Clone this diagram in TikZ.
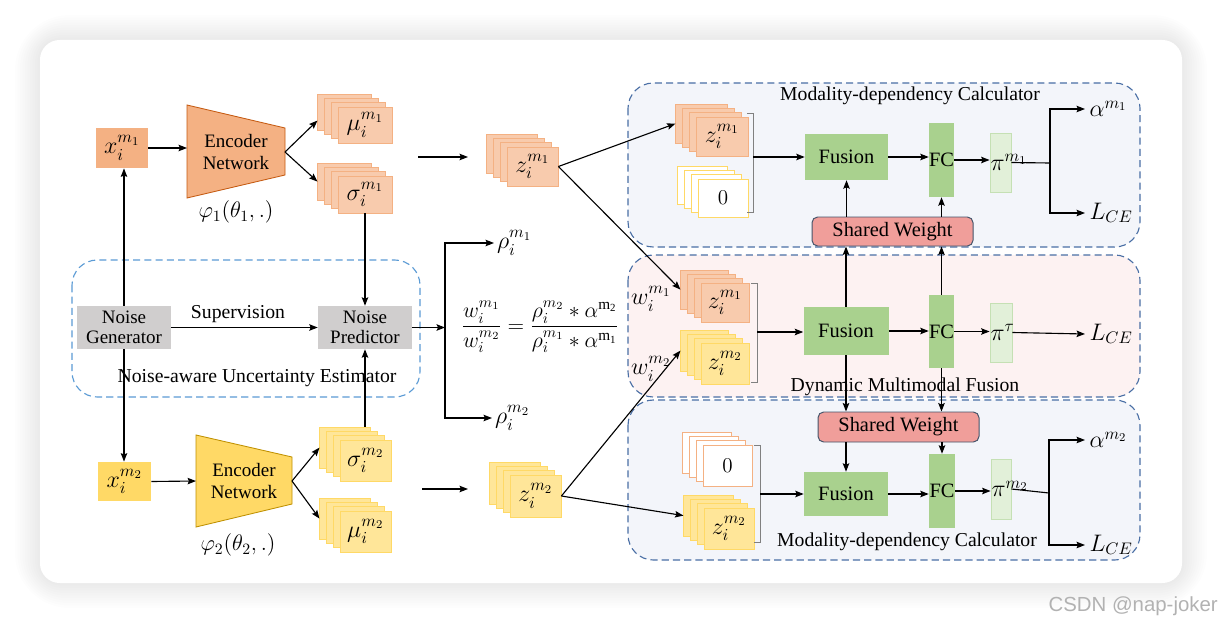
\RequirePackage{fix-cm}
\documentclass[tikz,border=0pt]{standalone}
\usepackage{amsmath}
\usepackage{fontspec}
\setmainfont{Liberation Serif}
\newfontfamily\wmfont{Liberation Sans}
\usetikzlibrary{arrows.meta,calc}
\definecolor{oD}{HTML}{F4B183}
\definecolor{oL}{HTML}{F8CBAD}
\definecolor{oB}{HTML}{C55A11}
\definecolor{yD}{HTML}{FFD966}
\definecolor{yL}{HTML}{FFE699}
\definecolor{yB}{HTML}{BF9000}
\definecolor{gN}{HTML}{D0CECE}
\definecolor{gr}{HTML}{A9D18E}
\definecolor{grL}{HTML}{E2F0D9}
\definecolor{grB}{HTML}{C5E0B4}
\definecolor{swF}{HTML}{F09E9A}
\definecolor{swB}{HTML}{44546A}
\definecolor{pB}{HTML}{F3F5FA}
\definecolor{pP}{HTML}{FDF2F2}
\definecolor{pD}{HTML}{4A6FA5}
\definecolor{lD}{HTML}{5B9BD5}
\newcommand\stk[7]{%
  \foreach \k in {3,2,1}{\node[#6, minimum width=#4*0.025cm, minimum height=#5*0.025cm] (#1-\k) at (#2-\k*6.7, #3-\k*4.3) {};}
  \node[#6, minimum width=#4*0.025cm, minimum height=#5*0.025cm] (#1) at (#2,#3) {#7};}
\begin{document}
\begin{tikzpicture}[x=0.025cm,y=-0.025cm,
  font=\fontsize{13}{15}\selectfont,
  arr/.style={line width=0.8pt,-{Stealth[length=6pt,width=4.6pt,inset=1pt]}},
  ln/.style={line width=0.8pt},
  mth/.style={font=\fontsize{17}{19}\selectfont},
  box/.style={line width=0.6pt,inner sep=0pt,mth},
  stO/.style={box,fill=oL,draw=oD},
  stY/.style={box,fill=yL,draw=yD},
  zY/.style={box,fill=white,draw=yD,font=\fontsize{15}{17}\selectfont},
  zO/.style={box,fill=white,draw=oD,font=\fontsize{15}{17}\selectfont},
  gnode/.style={fill=gN,inner sep=0pt,align=center,font=\fontsize{13.5}{14.5}\selectfont},
  grn/.style={fill=gr,inner sep=0pt,font=\fontsize{14.5}{16}\selectfont},
  pib/.style={fill=grL,draw=grB,line width=0.6pt,inner sep=0pt},
  swn/.style={fill=swF,draw=swB,line width=0.7pt,rounded corners=4pt,inner sep=0pt,font=\fontsize{14.5}{16}\selectfont},
  panel/.style={draw=pD,dashed,dash pattern=on 5pt off 3pt,line width=0.8pt,rounded corners=18pt},
  brk/.style={draw=gray,line width=0.6pt},
  ttl/.style={font=\fontsize{14}{16}\selectfont}]
\useasboundingbox (0,0) rectangle (1222,624);
\fill[white] (0,0) rectangle (1222,624);
% card with shadow
\foreach \k in {1,...,10}{\fill[black,opacity=0.007,rounded corners=14+\k*2.5] (40-\k*2.5,40-\k*2.5) rectangle (1182+\k*2.5,583+\k*2.5);}
\fill[white,rounded corners=14] (40,40) rectangle (1182,583);
\node[anchor=east,text=black!30,font=\wmfont\fontsize{14.5}{17}\selectfont,inner sep=0pt] (wm) at (1218,606) {CSDN @nap-joker};
% panels
\filldraw[panel,fill=pB] (628,83) rectangle (1140,247);
\filldraw[panel,fill=pP] (628,255) rectangle (1140,397);
\filldraw[panel,fill=pB] (628,400) rectangle (1140,560);
\node[ttl] (t1) at (910,96) {Modality-dependency Calculator};
\node[ttl] (t2) at (905,387) {Dynamic Multimodal Fusion};
\node[ttl] (t3) at (907,542) {Modality-dependency Calculator};
% left dashed box
\draw[draw=lD,dashed,dash pattern=on 5pt off 3pt,line width=0.8pt,rounded corners=18pt] (72,260) rectangle (420,397);
\node[ttl] (t4) at (257,378) {Noise-aware Uncertainty Estimator};
% inputs
\node[box,fill=oD,minimum width=52*0.025cm,minimum height=40*0.025cm] (x1) at (122,148) {$x_i^{m_1}$};
\node[box,fill=yD,minimum width=53*0.025cm,minimum height=39*0.025cm] (x2) at (124.5,481.5) {$x_i^{m_2}$};
% encoders
\filldraw[fill=oD,draw=oB,line width=0.6pt] (187,105) -- (285,128) -- (285,175) -- (187,198) -- cycle;
\node[align=center,font=\fontsize{13.5}{15}\selectfont] (e1) at (236,152) {Encoder\\Network};
\coordinate (e1in) at (187,148);
\coordinate (e1out) at (285,152);
\node[font=\fontsize{16}{18}\selectfont] (phi1) at (236,212) {$\varphi_1(\theta_1,.)$};
\filldraw[fill=yD,draw=yB,line width=0.6pt] (196,435) -- (292,457) -- (292,504) -- (196,527) -- cycle;
\node[align=center,font=\fontsize{13.5}{15}\selectfont] (e2) at (244,481) {Encoder\\Network};
\coordinate (e2in) at (196,481);
\coordinate (e2out) at (292,481);
\node[font=\fontsize{16}{18}\selectfont] (phi2) at (238,545) {$\varphi_2(\theta_2,.)$};
% stacks
\stk{mu1}{365}{125}{54}{36}{stO}{$\mu_i^{m_1}$}
\stk{sg1}{365}{194.5}{54}{37}{stO}{$\sigma_i^{m_1}$}
\stk{sg2}{365.5}{460.5}{51}{41}{stY}{$\sigma_i^{m_2}$}
\stk{mu2}{365.5}{531.5}{51}{41}{stY}{$\mu_i^{m_2}$}
\stk{z1}{532.5}{166.5}{51}{39}{stO}{$z_i^{m_1}$}
\stk{z2}{535.5}{496}{51}{42}{stY}{$z_i^{m_2}$}
% noise
\node[gnode,minimum width=94*0.025cm,minimum height=43*0.025cm] (gen) at (124,327.5) {Noise\\Generator};
\node[gnode,minimum width=94*0.025cm,minimum height=43*0.025cm] (pred) at (365,327.5) {Noise\\Predictor};
\node[font=\fontsize{14}{16}\selectfont] (sup) at (238,314) {Supervision};
% formula
\node[font=\fontsize{15.5}{17}\selectfont] (frm) at (540,327) {$\dfrac{w_i^{m_1}}{w_i^{m_2}}=\dfrac{\rho_i^{m_2}\ast\alpha^{\mathrm{m_2}}}{\rho_i^{m_1}\ast\alpha^{\mathrm{m_1}}}$};
\node[anchor=west,inner sep=2pt,mth] (r1) at (494,243) {$\rho_i^{m_1}$};
\node[anchor=west,inner sep=2pt,mth] (r2) at (492,418) {$\rho_i^{m_2}$};
\coordinate (spl) at (445,327.5);
% free arrows
\coordinate (fa1) at (418,157); \coordinate (fb1) at (468,157);
\coordinate (fa2) at (422,489); \coordinate (fb2) at (468,489);
% top panel
\stk{za}{722}{136.5}{52}{39}{stO}{$z_i^{m_1}$}
\stk{zr1}{723}{198}{50}{38}{zY}{$0$}
\node[grn,minimum width=83*0.025cm,minimum height=46*0.025cm] (fu1) at (846.5,157) {Fusion};
\node[grn,minimum width=23*0.025cm,minimum height=74*0.025cm] (fc1) at (941.5,160) {FC};
\node[pib,minimum width=21*0.025cm,minimum height=59*0.025cm] (pi1) at (1000.5,162.5) {};
\node[anchor=west,inner sep=0.5pt,mth] (pl1) at (pi1.west) {$\pi^{m_1}$};
\node[swn,minimum width=161*0.025cm,minimum height=29*0.025cm] (sw1) at (892.5,231.5) {Shared Weight};
\draw[brk] (747,113) -- (753,113) -- (753,212) -- (747,212);
\coordinate (b1) at (753,159);
\coordinate (s1) at (1050,163);
\node[anchor=west,inner sep=3pt,mth] (al1) at (1085,109) {$\alpha^{m_1}$};
\node[anchor=west,inner sep=3pt,mth] (lc1) at (1085,213) {$L_{CE}$};
% middle panel
\stk{zb1}{725}{302.5}{48}{39}{stO}{$z_i^{m_1}$}
\stk{zb2}{725}{363.5}{48}{41}{stY}{$z_i^{m_2}$}
\node[mth] (w1) at (651,299) {$w_i^{m_1}$};
\node[mth] (w2) at (651,369) {$w_i^{m_2}$};
\draw[brk] (751,283) -- (757,283) -- (757,382) -- (751,382);
\coordinate (b2) at (757,332);
\node[grn,minimum width=85*0.025cm,minimum height=48*0.025cm] (fu2) at (846,331) {Fusion};
\node[grn,minimum width=25*0.025cm,minimum height=73*0.025cm] (fc2) at (941.5,331.5) {FC};
\node[pib,minimum width=22*0.025cm,minimum height=59*0.025cm] (pi2) at (1001,332.5) {};
\node[anchor=west,inner sep=0.5pt,mth] (pl2) at (pi2.west) {$\pi^{\tau}$};
\node[anchor=west,inner sep=3pt,mth] (lc2) at (1085,334) {$L_{CE}$};
% bottom panel
\node[swn,minimum width=161*0.025cm,minimum height=30*0.025cm] (sw2) at (898.5,427) {Shared Weight};
\stk{zr2}{727.5}{465.5}{49}{41}{zO}{$0$}
\stk{zc}{729}{528.5}{50}{41}{stY}{$z_i^{m_2}$}
\draw[brk] (754,445) -- (760,445) -- (760,542) -- (754,542);
\coordinate (b3) at (760,494);
\node[grn,minimum width=84*0.025cm,minimum height=44*0.025cm] (fu3) at (846,494) {Fusion};
\node[grn,minimum width=26*0.025cm,minimum height=74*0.025cm] (fc3) at (942,491) {FC};
\node[pib,minimum width=20*0.025cm,minimum height=60*0.025cm] (pi3) at (1001,489) {};
\node[anchor=west,inner sep=0.5pt,mth] (pl3) at (pi3.west) {$\pi^{m_2}$};
\coordinate (s3) at (1049,493);
\node[anchor=west,inner sep=3pt,mth] (al2) at (1085,440) {$\alpha^{m_2}$};
\node[anchor=west,inner sep=3pt,mth] (lc3) at (1085,545) {$L_{CE}$};
% ---- connectors left
\draw[arr] (x1.east) -- (e1in);
\draw[arr] (x2.east) -- (e2in);
\draw[arr] (e1out) -- ([yshift=-6pt]mu1-3.west);
\draw[arr] (e1out) -- (sg1-3.west);
\draw[arr] (e2out) -- (sg2-3.west);
\draw[arr] (e2out) -- (mu2-3.west);
\draw[arr] (gen.north) -- (gen.north |- x1.south);
\draw[arr] (gen.south) -- (gen.south |- x2.north);
\draw[arr] (gen.east) -- (pred.west);
\draw[arr] (sg1.south -| pred.north) -- (pred.north);
\draw[arr] (pred.south |- sg2-3.north) -- (pred.south);
\draw[arr] (pred.east) -- (spl);
\draw[arr] (spl) |- (r1.west);
\draw[arr] (spl) |- (r2.west);
\draw[arr] (fa1) -- (fb1);
\draw[arr] (fa2) -- (fb2);
\draw[arr] (z1.east) -- (za-3.west);
\draw[arr] (z1.east) -- (zb1-3.west);
\draw[arr] (z2.east) -- (zb2-3.west);
\draw[arr] (z2.east) -- (zc-3.west);
% ---- top panel connectors
\draw[arr] (fu1.west -| b1) -- (fu1.west);
\draw[arr] (fu1.east) -- (fu1.east -| fc1.west);
\draw[arr] (fc1.east) -- (fc1.east -| pi1.west);
\draw[ln] (pi1.east) -- (s1);
\draw[arr] (s1) |- (al1.west);
\draw[arr] (s1) |- (lc1.west);
\draw[arr] (fu1.south |- sw1.north) -- (fu1.south);
\draw[arr] (fc1.south |- sw1.north) -- (fc1.south);
% ---- middle
\draw[arr] (b2) -- (b2 -| fu2.west);
\draw[arr] (fu2.east) -- (fu2.east -| fc2.west);
\draw[arr] (fc2.east) -- (fc2.east -| pi2.west);
\draw[arr] (pi2.east) -- (lc2.west);
\draw[arr] (fu2.north) -- (fu2.north |- sw1.south);
\draw[arr] (fc2.north) -- (fc2.north |- sw1.south);
\draw[arr] (fu2.south) -- (fu2.south |- sw2.north);
\draw[arr] (fc2.south) -- (fc2.south |- sw2.north);
% ---- bottom
\draw[arr] (fu3.north |- sw2.south) -- (fu3.north);
\draw[arr] (fc3.north |- sw2.south) -- (fc3.north);
\draw[arr] (b3) -- (b3 -| fu3.west);
\draw[arr] (fu3.east) -- (fu3.east -| fc3.west);
\draw[arr] (fc3.east) -- (fc3.east -| pi3.west);
\draw[ln] (pi3.east) -- (s3);
\draw[arr] (s3) |- (al2.west);
\draw[arr] (s3) |- (lc3.west);
\end{tikzpicture}
\end{document}
